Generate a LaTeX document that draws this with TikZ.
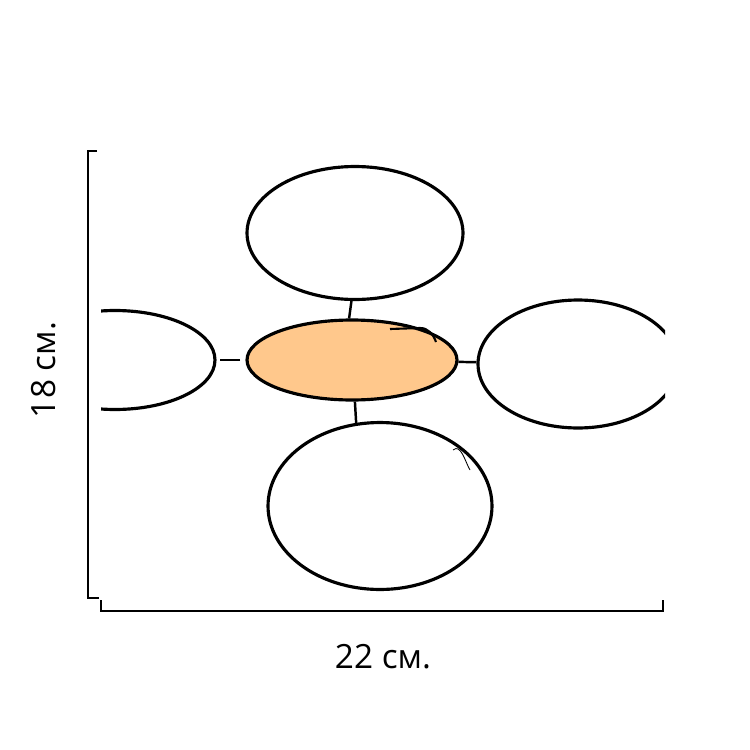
\documentclass[tikz,border=0pt]{standalone}
\usepackage{fontspec}
\setmainfont{Open Sans}
\usepackage{tikz}
\usetikzlibrary{shapes.geometric}
\definecolor{peach}{HTML}{FFC88C}
\tikzstyle{blob} = [draw=black, ellipse, line width=1.8pt, inner sep=0pt, fill=white]
\tikzstyle{hub} = [fill=peach]
\tikzstyle{link} = [line width=1.4pt]
\tikzstyle{dim} = [line width=1.1pt]
\tikzstyle{size} = [font=\fontsize{19}{22}\selectfont]

\begin{document}
\begin{tikzpicture}[x=0.02cm, y=-0.02cm]
    \useasboundingbox (0,0) rectangle (750,750);
    \begin{scope}
      \clip (101,140) rectangle (665,605);
      \node[blob,minimum width=4.32cm,minimum height=2.66cm](upper) at (355,233){};
      \node[blob,hub,minimum width=4.2cm,minimum height=1.6cm](main) at (352,360){};
      \node[blob,minimum width=4.48cm,minimum height=3.34cm](lower) at (380,506){};
      \node[blob,minimum width=4.0cm,minimum height=1.98cm](leftpart) at (115,360){};
      \node[blob,minimum width=4.0cm,minimum height=2.56cm](rightpart) at (578,364){};
      \draw[link](main.94)--(upper.-93);
      \draw[link](main.-86)--(lower.106);
      \draw[link](main)--(rightpart);
      \draw[link,shorten <=3pt,shorten >=2pt](main)--(leftpart);
      % stray pen strokes
      \draw[line width=1.2pt] (390,329) -- (420,328) to[out=0,in=110] (436,342);
      \draw[line width=0.5pt] (453,450) to[out=40,in=120] (470,470);
    \end{scope}
    % size brackets
    \coordinate (ltop) at (97,151);
    \coordinate (lbot) at (99,598);
    \draw[dim] (ltop) -- (88,151) -- (88,598) -- (lbot);
    \coordinate (bleft) at (101,600);
    \coordinate (bright) at (663,600);
    \draw[dim] (bleft) -- (101,611) -- (663,611) -- (bright);
    \node[size,rotate=90](height) at (44,370){18 см.};
    \node[size](width) at (383,657){22 см.};
  \end{tikzpicture}
\end{document}
